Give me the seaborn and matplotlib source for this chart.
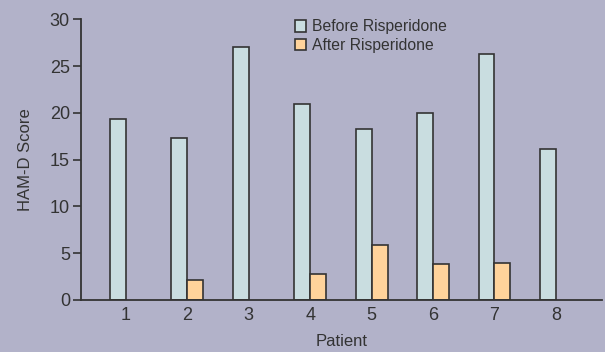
import matplotlib
matplotlib.use("Agg")
import matplotlib.pyplot as plt
import seaborn as sns
import pandas as pd

patients = ["1", "2", "3", "4", "5", "6", "7", "8"]
before = [19.3, 17.3, 27.0, 21.0, 18.3, 20.0, 26.3, 16.1]
after = [0.0, 2.1, 0.0, 2.8, 5.85, 3.8, 3.9, 0.0]
series = ["Before Risperidone", "After Risperidone"]
yticks = [0, 5, 10, 15, 20, 25, 30]

df = pd.DataFrame({
    "Patient": patients * 2,
    "Score": before + after,
    "Series": [series[0]] * len(patients) + [series[1]] * len(patients),
})

sns.set_theme(style="ticks")
plt.rcParams["font.family"] = ["Liberation Sans", "DejaVu Sans"]
bg = "#b2b2c9"
fig = plt.figure(figsize=(6.05, 3.52), dpi=100, facecolor=bg)
ax = fig.add_axes([0.134, 0.148, 0.861, 0.797], facecolor=bg)

sns.barplot(data=df, x="Patient", y="Score", hue="Series", order=patients,
            hue_order=series, palette=["#c9dde0", "#ffd39b"], width=0.52,
            edgecolor="#333333", linewidth=1.2, ax=ax, saturation=1)
# hide zero-height data bars
for p in ax.patches:
    if p.get_height() == 0 and p.get_width() > 0:
        p.set_visible(False)

ax.set_xlim(-0.73, 7.75)
ax.set_ylim(0, 30)
ax.set_yticks(yticks)
ax.set_yticklabels([str(v) for v in yticks])
ax.tick_params(axis="y", length=6, width=1.2, color="#333333", labelsize=13, labelcolor="#333333", pad=2)
ax.tick_params(axis="x", length=0, labelsize=13, labelcolor="#333333", pad=5)
for s in ["top", "right"]:
    ax.spines[s].set_visible(False)
for s in ["left", "bottom"]:
    ax.spines[s].set_color("#333333")
    ax.spines[s].set_linewidth(1.3)
ax.set_xlabel("Patient", fontsize=12, color="#333333", labelpad=7)
ax.set_ylabel("HAM-D Score", fontsize=12, color="#333333", labelpad=12)

leg = ax.legend(loc="upper left", bbox_to_anchor=(0.398, 1.022), frameon=False,
                fontsize=11.3, handlelength=0.75, handleheight=0.75,
                handletextpad=0.35, labelspacing=0.22, borderaxespad=0)
for t in leg.get_texts():
    t.set_color("#333333")
for h in leg.legend_handles:
    h.set_edgecolor("#333333")
    h.set_linewidth(1.2)

fig.savefig("out.png", dpi=100, facecolor=bg)
